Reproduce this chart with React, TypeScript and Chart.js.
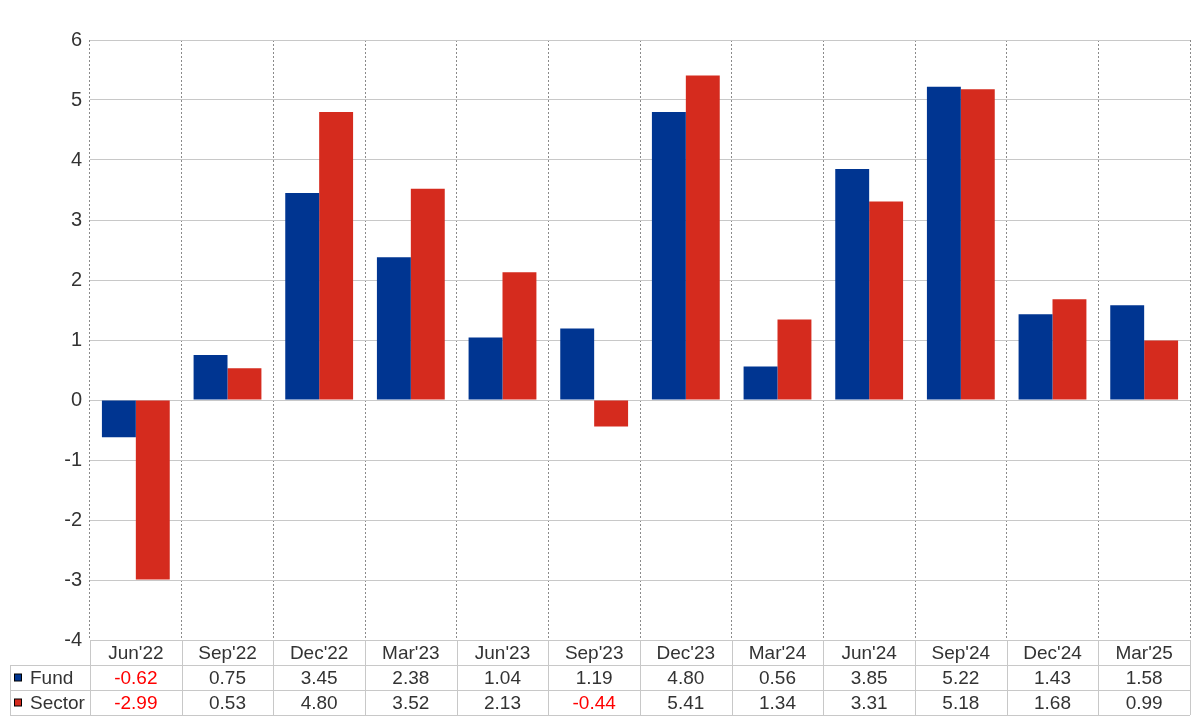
import React, { useEffect, useRef } from "react";
import { Chart, registerables } from "chart.js";

Chart.register(...registerables);

const categories = ["Jun'22", "Sep'22", "Dec'22", "Mar'23", "Jun'23", "Sep'23", "Dec'23", "Mar'24", "Jun'24", "Sep'24", "Dec'24", "Mar'25"];
const fundValues = [-0.62, 0.75, 3.45, 2.38, 1.04, 1.19, 4.8, 0.56, 3.85, 5.22, 1.43, 1.58];
const sectorValues = [-2.99, 0.53, 4.8, 3.52, 2.13, -0.44, 5.41, 1.34, 3.31, 5.18, 1.68, 0.99];
const seriesNames = ["Fund", "Sector"];
const seriesColors = ["#003591", "#D52B1E"];

const FONT = "'Liberation Sans', Arial, sans-serif";
const TEXT = "#333333";
const LINE = "#c8c8c8";

const tablePlugin = {
  id: "dataTable",
  afterDraw(chart: any) {
    const ctx = chart.ctx;
    const area = chart.chartArea;
    const xs = chart.scales.x;
    const rowH = 25;
    const top = area.bottom;
    const tableLeft = 10;
    const rows = [fundValues, sectorValues];
    const n = categories.length;
    const catW = (area.right - area.left) / n;
    ctx.save();
    ctx.strokeStyle = LINE;
    ctx.lineWidth = 1;
    for (let r = 1; r <= 3; r++) {
      const y = Math.round(top + r * rowH) + 0.5;
      ctx.beginPath();
      ctx.moveTo(tableLeft, y);
      ctx.lineTo(area.right, y);
      ctx.stroke();
    }
    for (let i = 0; i <= n; i++) {
      const x = Math.round(area.left + i * catW) + 0.5;
      ctx.beginPath();
      ctx.moveTo(x, top);
      ctx.lineTo(x, top + 3 * rowH);
      ctx.stroke();
    }
    ctx.beginPath();
    ctx.moveTo(tableLeft + 0.5, top + rowH);
    ctx.lineTo(tableLeft + 0.5, top + 3 * rowH);
    ctx.stroke();

    ctx.font = "19px " + FONT;
    ctx.textAlign = "center";
    ctx.textBaseline = "middle";
    categories.forEach((c, i) => {
      const x = xs.getPixelForValue(i);
      ctx.fillStyle = TEXT;
      ctx.fillText(c, x, top + rowH / 2 + 1);
    });
    rows.forEach((vals, r) => {
      const y = top + rowH * (r + 1) + rowH / 2 + 1;
      vals.forEach((v, i) => {
        const x = xs.getPixelForValue(i);
        ctx.fillStyle = v < 0 ? "#ff0000" : TEXT;
        ctx.fillText(v.toFixed(2), x, y);
      });
      ctx.fillStyle = seriesColors[r];
      ctx.fillRect(14.5, y - 4.5, 7, 7);
      ctx.strokeStyle = "#000";
      ctx.strokeRect(14.5, y - 4.5, 7, 7);
      ctx.fillStyle = TEXT;
      ctx.textAlign = "left";
      ctx.fillText(seriesNames[r], 30, y);
      ctx.textAlign = "center";
    });
    ctx.restore();
  },
};

export default function App() {
  const ref = useRef<HTMLCanvasElement | null>(null);
  useEffect(() => {
    if (!ref.current) return;
    const chart = new Chart(ref.current, {
      type: "bar",
      data: {
        labels: categories,
        datasets: [
          { label: seriesNames[0], data: fundValues, backgroundColor: seriesColors[0], categoryPercentage: 0.74, barPercentage: 1.0 },
          { label: seriesNames[1], data: sectorValues, backgroundColor: seriesColors[1], categoryPercentage: 0.74, barPercentage: 1.0 },
        ],
      },
      options: {
        animation: false,
        responsive: false,
        maintainAspectRatio: false,
        layout: { padding: { top: 40, right: 10, bottom: 80, left: 0 } },
        plugins: { legend: { display: false }, tooltip: { enabled: false } },
        scales: {
          x: {
            offset: true,
            grid: { display: true, offset: true, color: "#8a8a8a", drawTicks: false, lineWidth: 1 },
            border: { display: false, dash: [2, 2] },
            ticks: { display: false },
            afterFit: (s: any) => { s.height = 0; },
          },
          y: {
            min: -4,
            max: 6,
            ticks: { stepSize: 1, color: TEXT, font: { size: 20, family: FONT }, padding: 8 },
            grid: { color: LINE, drawTicks: false, lineWidth: 1 },
            border: { display: false },
            afterFit: (s: any) => { s.width = 90; },
          },
        },
      },
      plugins: [tablePlugin],
    });
    return () => chart.destroy();
  }, []);
  return (
    <div style={{ position: "absolute", left: 0, top: 0, width: 1200, height: 720, background: "#fff" }}>
      <canvas ref={ref} width={1200} height={720} style={{ width: 1200, height: 720 }} />
    </div>
  );
}
